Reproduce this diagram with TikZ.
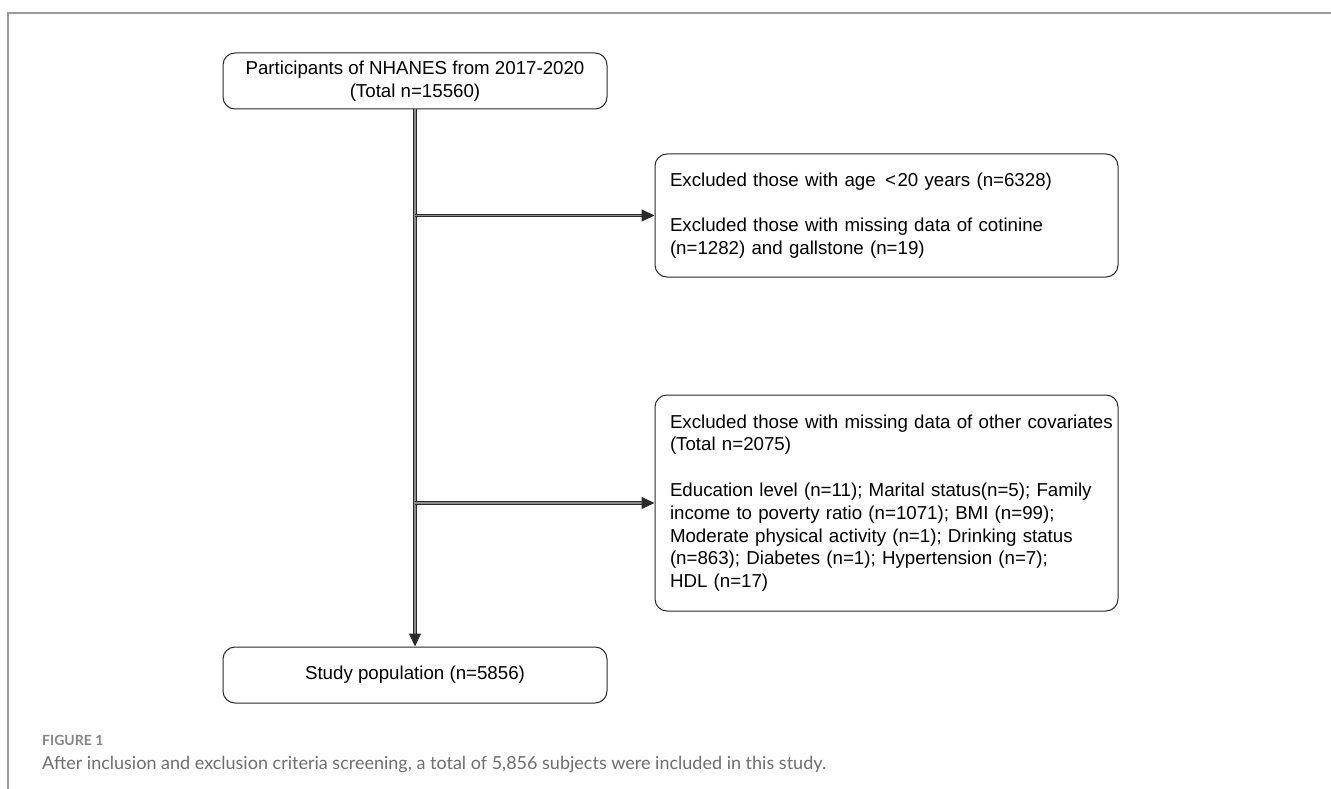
\documentclass[tikz,border=0pt]{standalone}
\usepackage{fontspec}
\setmainfont{Liberation Sans}
\newfontfamily\capfont{Lato}
\usetikzlibrary{arrows.meta}
\definecolor{framegray}{HTML}{9A9A9A}
\definecolor{capgray}{HTML}{6E6E6E}
\definecolor{figgray}{HTML}{858585}
\definecolor{linedark}{HTML}{2A2A2A}
\definecolor{linefill}{HTML}{8C8C8C}
\begin{document}
\begin{tikzpicture}[x=1pt,y=-1pt,
  box/.style={draw=linedark, line width=1pt, rounded corners=12pt,
    font=\fontsize{18.7}{22.8}\selectfont, inner sep=0pt},
  flow/.style={draw=linedark, line width=1pt, double=linefill, double distance=1.4pt},
  flowarrow/.style={flow, -{Triangle[length=13pt,width=12pt]}},
  frame/.style={draw=framegray, line width=1.3pt},
  figlabel/.style={anchor=west, inner sep=0pt, text=figgray,
    font=\capfont\bfseries\fontsize{14}{17}\selectfont},
  captext/.style={anchor=west, inner sep=0pt, text=capgray,
    font=\capfont\fontsize{18}{22}\selectfont}]
\useasboundingbox (0,0) rectangle (1331,789);
\fill[white] (0,0) rectangle (1331,789);
% frame
\coordinate (fbl) at (8,789);
\coordinate (ftl) at (8,13);
\coordinate (ftr) at (1331,13);
\draw[frame] (fbl) -- (ftl) -- (ftr);
% boxes
\node[box, minimum width=384pt, minimum height=56pt, align=center] (top) at (415,81)
  {Participants of NHANES from 2017-2020\\(Total n=15560)};
\node[box, minimum width=463pt, minimum height=123pt, text width=433pt,
  inner xsep=15pt, align=left] (ex1) at (886.5,215.5)
  {Excluded those with age \,<\hspace{1.5pt}20 years (n=6328)\\[22.8pt]
   Excluded those with missing data of cotinine\\(n=1282) and gallstone (n=19)};
\node[box, minimum width=463pt, minimum height=216pt, text width=433pt,
  inner xsep=14pt, align=left] (ex2) at (886.5,503)
  {\mbox{Excluded those with missing data of other covariates}\\(Total n=2075)\\[22.8pt]
   \mbox{Education level (n=11); Marital status(n=5); Family}\\
   \mbox{income to poverty ratio (n=1071); BMI (n=99);}\\
   \mbox{Moderate physical activity (n=1); Drinking status}\\
   \mbox{(n=863); Diabetes (n=1); Hypertension (n=7);}\\
   HDL (n=17)};
\node[box, minimum width=384pt, minimum height=56pt] (pop) at (415,675)
  {Study population (n=5856)};
% connectors
\draw[flowarrow] (top.south) -- (pop.north);
\draw[flowarrow] (top.south |- ex1.west) -- (ex1.west);
\draw[flowarrow] (top.south |- ex2.west) -- (ex2.west);
% caption
\node[figlabel] (fig) at (42,740) {FIGURE 1};
\node[captext] (cap) at (42,765)
  {After inclusion and exclusion criteria screening, a total of 5,856 subjects were included in this study.};
\end{tikzpicture}
\end{document}
